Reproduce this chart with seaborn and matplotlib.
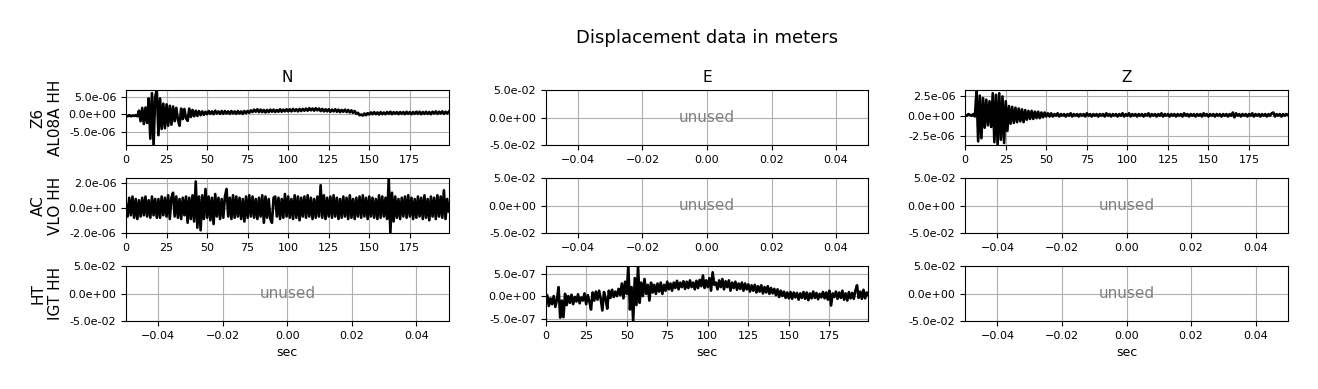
import numpy as np
import pandas as pd
import matplotlib
matplotlib.use("Agg")
import matplotlib.pyplot as plt
import seaborn as sns
from matplotlib.ticker import FormatStrFormatter

# ---------------- data ----------------
title = "Displacement data in meters"
stations = ["Z6\nAL08A HH", "AC\nVLO HH", "HT\nIGT HH"]
components = ["N", "E", "Z"]
sample_interval_s = 1.0

# Z6 AL08A, N component, units of 1e-7 m, one sample per second
z6_n = [-4, -6, -3, -6, -4, -5, -3, -6, 10, -20,
        18, -28, 19, -25, 45, -70, 60, -88, 50, 69,
        -60, 45, -42, 30, -40, 28, -33, 24, -30, 22,
        -20, 18, -15, -33, 16, -14, 15, -12, -19, 16,
        -8, 12, -6, 10, -5, 9, -3, 8, -2, 7,
        0, 9, 1, 8, 0, 10, 2, 8, 1, 9,
        1, 9, 2, 8, 1, 9, 2, 8, 1, 9,
        2, 8, 1, 9, 3, 9, 4, 11, 6, 13,
        7, 14, 6, 13, 6, 12, 5, 12, 6, 13,
        7, 13, 6, 12, 7, 14, 7, 13, 8, 14,
        8, 14, 8, 15, 9, 14, 8, 15, 9, 15,
        10, 16, 10, 17, 11, 16, 10, 17, 11, 16,
        9, 15, 8, 14, 8, 14, 7, 13, 8, 14,
        7, 13, 6, 12, 7, 13, 6, 12, 5, 11,
        4, 9, 1, 4, -3, -1, -4, 2, -3, 3,
        -1, 5, 0, 6, 0, 5, -1, 6, 0, 5,
        0, 6, 1, 7, 0, 6, 1, 6, 0, 6,
        1, 6, 0, 7, 1, 6, 0, 6, 1, 7,
        1, 7, 0, 6, 1, 7, 1, 6, 0, 7,
        2, 8, 1, 7, 2, 8, 1, 7, 2, 7]

# Z6 AL08A, Z component, units of 1e-7 m
z6_z = [1, 0, 2, 1, 0, 2, -1, 32, -32, 25,
        -28, 22, -15, 20, -12, 18, -14, 28, -33, 26,
        -36.5, 28, -30, 24, -34, 18, -19, 12, -10, 11,
        -9, 10, -8, 9, -7, 8, -8, 7, -5, 6,
        -4, 6, -4, 5, -3, 5, -3, 4, -2, 4,
        -1, 3, -1, 3, -1, 2, 0, 3, -1, 2,
        0, 2, -1, 2, 0, 3, -1, 2, 0, 2,
        -1, 2, 0, 2, -1, 3, 0, 2, -1, 2,
        0, 2, -1, 2, 0, 2, -1, 3, 0, 2,
        -1, 2, 0, 2, -1, 2, 0, 3, -1, 2,
        0, 3, -1, 2, 0, 2, -1, 2, 0, 2,
        -1, 2, 0, 3, -1, 2, 0, 2, -1, 2,
        0, 3, -1, 2, 0, 2, -1, 2, 0, 2,
        -1, 2, 0, 2, -1, 3, 0, 2, -1, 2,
        0, 2, -1, 2, 0, 2, -1, 3, 0, 2,
        -1, 2, 0, 2, -1, 2, 0, 2, -1, 2,
        0, 2, -1, 2, 0, 4, -2, 3, 0, 2,
        -1, 2, 0, 2, -1, 2, 0, 3, -1, 2,
        0, 2, -1, 2, 0, 2, -1, 2, 0, 3,
        4, -1, 2, 0, 2, -1, 2, 0, 2, 1]

# AC VLO, N component, units of 1e-7 m
ac_n = [3, -7, 8, -6, 9, -8, 7, -9, 6, -7,
        8, -6, 9, -7, 6, -8, 9, -6, 7, -8,
        7, -8, 9, -6, 8, -7, 10, -9, 8, 12,
        -7, 9, -8, 7, -9, 8, -6, 9, -12, 8,
        -9, 10, -11, 21, -16, 9, -18, 10, -9, 15,
        -8, 9, -10, 8, -13, 11, -7, 8, -9, 7,
        -8, 9, 15, -7, 8, -9, 10, -8, 9, -7,
        8, -9, 7, -11, 9, -8, 10, -7, 9, -8,
        7, -9, 8, -7, 10, -12, 9, -8, 7, -9,
        -12, 8, 9, -7, 8, -9, 7, -8, 11, -7,
        9, -8, 7, -9, 10, -8, 9, -10, 8, -7,
        9, -8, 10, -7, 8, -9, 7, -8, 9, -7,
        18, -8, 10, -9, 8, -7, 9, -8, 10, -7,
        8, -9, 7, -8, 9, -7, 8, -9, 10, -8,
        7, -9, 8, -7, 9, -8, 10, -7, 8, -9,
        9, -7, 8, -8, 7, -9, 10, -8, 9, -7,
        8, -9, 23.8, -20.2, 12, -11, 9, -8, 7, -9,
        8, -7, 9, -8, 10, -7, 8, -9, 7, -8,
        9, -7, 8, -9, 10, -8, 7, -10, 9, -7,
        8, -9, 10, -7, 9, -8, 14, -9, 7, -3]

# HT IGT, E component, units of 1e-8 m
ht_e = [-15, 2, -22, -5, -18, 0, -24, -8, 20, -48,
        -10, -47, 5, -20, 0, -15, 3, -18, -2, -12,
        4, -16, -3, -10, 6, -18, 2, -12, -30, 8,
        -10, 10, -8, 12, -6, -32, 9, -5, -28, 12,
        -4, 14, -2, 10, 0, 16, 2, 28, -5, 32,
        5, 67, -30, 20, -55.5, 40, -20, 67, -15, 30,
        0, 38, 5, 25, -10, 30, 8, 25, 5, 28,
        10, 30, 5, 25, 12, 32, 15, 28, 12, 30,
        18, 34, 15, 30, 20, 33, 16, 32, 18, 35,
        20, 30, 15, 34, 18, 36, 22, 46, 18, 35,
        20, 40, 12, 53, 25, 30, 15, 35, 20, 38,
        15, 33, 20, 35, 12, 30, 18, 32, 14, 28,
        16, 30, 12, 28, 15, 26, 10, 24, 12, 25,
        8, 22, 10, 24, 6, 20, 8, 22, 5, 18,
        6, 16, 2, 15, -2, 12, 0, 10, -4, 8,
        -5, 9, -6, 8, -3, 7, -8, 6, -4, 9,
        -6, 8, -9, 6, -5, 10, -4, 7, -7, 5,
        -3, 9, -5, 8, -8, 12, -21, 6, -2, 10,
        -6, 8, -4, 12, -8, 6, -10, 9, -5, 7,
        -6, 12, 24, -4, 10, -6, 14, -5, 8, 2]

# (row, col) -> (values, unit in meters, y ticks in meters)
traces = {
    (0, 0): (z6_n, 1e-7, [-5e-6, 0.0, 5e-6]),
    (0, 2): (z6_z, 1e-7, [-2.5e-6, 0.0, 2.5e-6]),
    (1, 0): (ac_n, 1e-7, [-2e-6, 0.0, 2e-6]),
    (2, 1): (ht_e, 1e-8, [-5e-7, 0.0, 5e-7]),
}
x_ticks_trace = [0, 25, 50, 75, 100, 125, 150, 175]
unused_ticks_x = [-0.04, -0.02, 0.0, 0.02, 0.04]
unused_ticks_y = [-0.05, 0.0, 0.05]

# ---------------- figure ----------------
fig, axes = plt.subplots(3, 3, figsize=(13.18, 3.89), dpi=100)
fig.subplots_adjust(left=0.0956, right=0.9772, top=0.7686, bottom=0.1748,
                    wspace=0.30, hspace=0.60)

for r in range(3):
    for c in range(3):
        ax = axes[r, c]
        if (r, c) in traces:
            vals, unit, yt = traces[(r, c)]
            df = pd.DataFrame({
                "t": np.arange(len(vals)) * sample_interval_s,
                "disp": np.asarray(vals, dtype=float) * unit,
            })
            sns.lineplot(data=df, x="t", y="disp", ax=ax, color="black",
                         linewidth=1.9, estimator=None, sort=False)
            ax.set_xlim(df["t"].iloc[0], df["t"].iloc[-1])
            ax.set_ylim(df["disp"].min(), df["disp"].max())
            ax.set_xticks(x_ticks_trace)
            ax.set_yticks(yt)
        else:
            ax.set_xlim(-0.05, 0.05)
            ax.set_ylim(-0.05, 0.05)
            ax.set_xticks(unused_ticks_x)
            ax.set_yticks(unused_ticks_y)
            ax.text(0.5, 0.5, "unused", transform=ax.transAxes, ha="center",
                    va="center", color="gray", fontsize=11)
        ax.yaxis.set_major_formatter(FormatStrFormatter("%.1e"))
        ax.tick_params(labelsize=8)
        ax.grid(True, color="#b0b0b0", linewidth=0.8)
        ax.set_axisbelow(True)
        ax.set_xlabel("sec" if r == 2 else "", fontsize=9)
        ax.set_ylabel(stations[r] if c == 0 else "", fontsize=11)
        if r == 0:
            ax.set_title(components[c], fontsize=11)

fig.suptitle(title, fontsize=13, x=707 / 1318, y=1 - 38 / 389, va="center")
fig.savefig("out.png", dpi=100)
